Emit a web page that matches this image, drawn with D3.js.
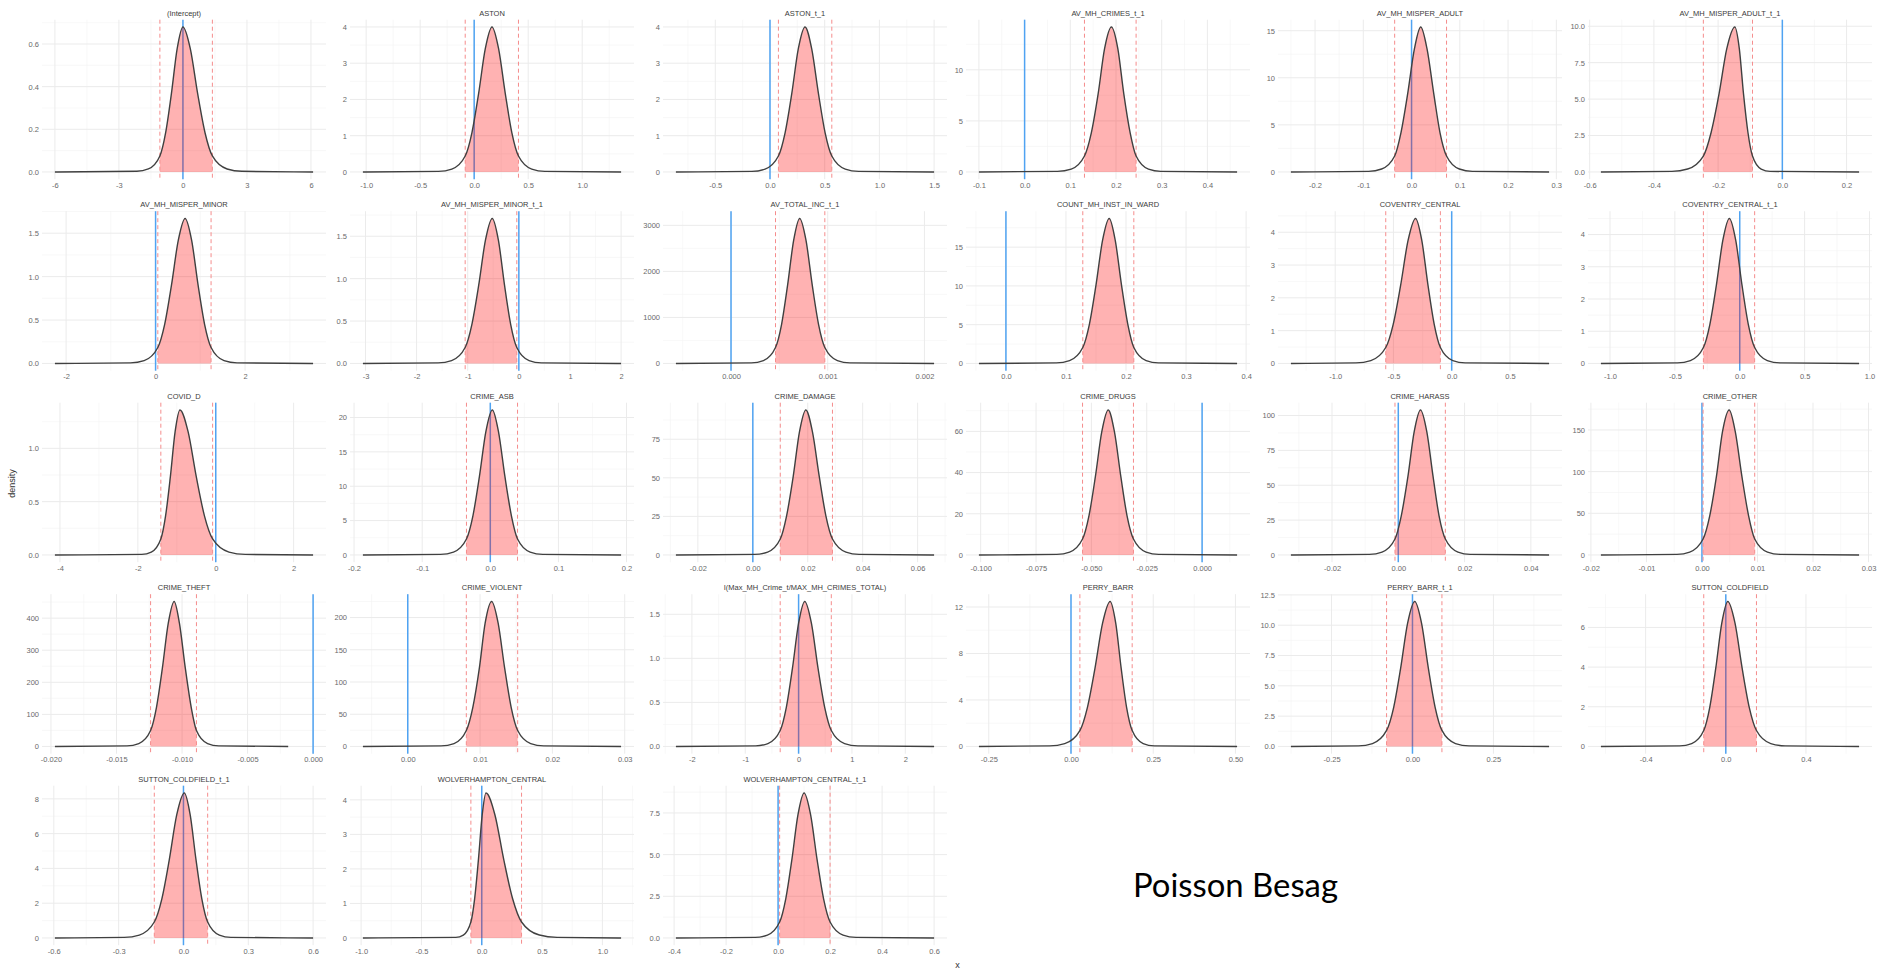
<!DOCTYPE html>
<html>
<head>
<meta charset="utf-8">
<script src="https://cdn.jsdelivr.net/npm/d3@7"></script>
<style>
  body { margin: 0; background: #fff; }
  svg { display: block; }
</style>
</head>
<body>
<svg id="chart" width="1885" height="972"></svg>
<script>
// Posterior marginal densities of the fixed effects (Poisson Besag model)
const panelTitles = [
  "(Intercept)", "ASTON", "ASTON_t_1", "AV_MH_CRIMES_t_1", "AV_MH_MISPER_ADULT", "AV_MH_MISPER_ADULT_t_1",
  "AV_MH_MISPER_MINOR", "AV_MH_MISPER_MINOR_t_1", "AV_TOTAL_INC_t_1", "COUNT_MH_INST_IN_WARD", "COVENTRY_CENTRAL", "COVENTRY_CENTRAL_t_1",
  "COVID_D", "CRIME_ASB", "CRIME_DAMAGE", "CRIME_DRUGS", "CRIME_HARASS", "CRIME_OTHER",
  "CRIME_THEFT", "CRIME_VIOLENT", "I(Max_MH_Crime_t/MAX_MH_CRIMES_TOTAL)", "PERRY_BARR", "PERRY_BARR_t_1", "SUTTON_COLDFIELD",
  "SUTTON_COLDFIELD_t_1", "WOLVERHAMPTON_CENTRAL", "WOLVERHAMPTON_CENTRAL_t_1"
];

// marginal density: coefficient values
const densityX = [
  [-6.0, -2.16, -1.62, -1.08, -0.81, -0.54, -0.27, 0, 0.345, 0.69, 1.035, 1.38, 2.07, 2.76, 6.1],
  [-1.03, -0.331, -0.207, -0.083, -0.021, 0.041, 0.103, 0.165, 0.226, 0.288, 0.349, 0.41, 0.533, 0.655, 1.36],
  [-0.86, -0.166, -0.045, 0.077, 0.138, 0.199, 0.259, 0.32, 0.381, 0.443, 0.504, 0.565, 0.688, 0.81, 1.5],
  [-0.1, 0.072, 0.102, 0.131, 0.146, 0.161, 0.175, 0.19, 0.204, 0.217, 0.231, 0.244, 0.271, 0.298, 0.465],
  [-0.25, -0.089, -0.062, -0.035, -0.022, -0.008, 0.006, 0.019, 0.032, 0.046, 0.059, 0.0725, 0.099, 0.126, 0.285],
  [-0.565, -0.344, -0.295, -0.246, -0.222, -0.197, -0.173, -0.148, -0.134, -0.121, -0.107, -0.093, -0.066, -0.038, 0.239],
  [-2.25, -0.56, -0.255, 0.05, 0.203, 0.355, 0.508, 0.66, 0.805, 0.95, 1.095, 1.24, 1.53, 1.82, 3.52],
  [-3.05, -1.58, -1.315, -1.05, -0.918, -0.785, -0.653, -0.52, -0.4, -0.28, -0.16, -0.04, 0.2, 0.44, 2.0],
  [-0.00057, 0.00021, 0.000335, 0.00046, 0.000523, 0.000585, 0.000648, 0.00071, 0.000775, 0.00084, 0.000905, 0.00097, 0.0011, 0.00123, 0.0021],
  [-0.045, 0.084, 0.106, 0.128, 0.139, 0.15, 0.161, 0.172, 0.182, 0.1925, 0.203, 0.213, 0.2335, 0.254, 0.385],
  [-1.38, -0.822, -0.694, -0.566, -0.502, -0.438, -0.374, -0.31, -0.257, -0.2035, -0.15, -0.097, 0.0095, 0.116, 0.836],
  [-1.07, -0.48, -0.38, -0.28, -0.23, -0.18, -0.13, -0.08, -0.031, 0.0175, 0.066, 0.115, 0.2125, 0.31, 0.92],
  [-4.13, -1.9, -1.655, -1.41, -1.288, -1.165, -1.043, -0.92, -0.71, -0.5, -0.29, -0.08, 0.34, 0.76, 2.5],
  [-0.187, -0.073, -0.054, -0.035, -0.0255, -0.016, -0.0065, 0.003, 0.012, 0.0215, 0.031, 0.04, 0.0585, 0.077, 0.192],
  [-0.028, 0.0007, 0.0054, 0.01, 0.0123, 0.0147, 0.017, 0.0193, 0.0217, 0.0242, 0.0266, 0.029, 0.0339, 0.0387, 0.066],
  [-0.1008, -0.0656, -0.0598, -0.054, -0.0511, -0.0482, -0.0453, -0.0424, -0.0396, -0.0367, -0.0339, -0.031, -0.0253, -0.0196, 0.0158],
  [-0.0324, -0.0087, -0.0049, -0.001, 0.0009, 0.0029, 0.0048, 0.0067, 0.0086, 0.0105, 0.0123, 0.0142, 0.018, 0.0217, 0.0455],
  [-0.0182, -0.0045, -0.0022, 0.0002, 0.0014, 0.0026, 0.0037, 0.0049, 0.006, 0.0072, 0.0084, 0.0095, 0.0118, 0.0141, 0.0283],
  [-0.0197, -0.0142, -0.0133, -0.0124, -0.01195, -0.0115, -0.01105, -0.0106, -0.0102, -0.00975, -0.0093, -0.0089, -0.00805, -0.0072, -0.0019],
  [-0.0062, 0.0046, 0.0064, 0.0081, 0.009, 0.0099, 0.0107, 0.0116, 0.0125, 0.0134, 0.0143, 0.0152, 0.017, 0.0188, 0.0295],
  [-2.3, -0.805, -0.575, -0.345, -0.23, -0.115, 0.0, 0.115, 0.24, 0.364, 0.489, 0.613, 0.862, 1.111, 2.54],
  [-0.28, -0.065, -0.019, 0.027, 0.05, 0.073, 0.096, 0.119, 0.136, 0.1525, 0.169, 0.186, 0.2195, 0.253, 0.505],
  [-0.3755, -0.167, -0.1235, -0.08, -0.058, -0.0365, -0.015, 0.007, 0.028, 0.049, 0.07, 0.091, 0.133, 0.175, 0.422],
  [-0.623, -0.23, -0.17, -0.11, -0.08, -0.05, -0.02, 0.01, 0.046, 0.0815, 0.117, 0.153, 0.2245, 0.296, 0.665],
  [-0.595, -0.274, -0.2045, -0.135, -0.1, -0.0655, -0.031, 0.004, 0.031, 0.058, 0.085, 0.112, 0.166, 0.22, 0.6],
  [-0.985, -0.215, -0.1525, -0.09, -0.059, -0.0275, 0.004, 0.035, 0.109, 0.1825, 0.256, 0.33, 0.4775, 0.625, 1.155],
  [-0.393, -0.088, -0.041, 0.006, 0.0295, 0.053, 0.0765, 0.1, 0.125, 0.15, 0.175, 0.2, 0.25, 0.3, 0.6]
];

// marginal density: density at each coefficient value
const densityY = [
  [0, 0.003, 0.014, 0.075, 0.184, 0.367, 0.578, 0.68, 0.578, 0.367, 0.184, 0.075, 0.014, 0.003, 0],
  [0, 0.016, 0.08, 0.44, 1.08, 2.16, 3.4, 4.0, 3.4, 2.16, 1.08, 0.44, 0.08, 0.016, 0],
  [0, 0.016, 0.08, 0.44, 1.08, 2.16, 3.4, 4.0, 3.4, 2.16, 1.08, 0.44, 0.08, 0.016, 0],
  [0, 0.06, 0.28, 1.56, 3.83, 7.67, 12.07, 14.2, 12.07, 7.67, 3.83, 1.56, 0.28, 0.06, 0],
  [0, 0.06, 0.31, 1.69, 4.16, 8.32, 13.09, 15.4, 13.09, 8.32, 4.16, 1.69, 0.31, 0.06, 0],
  [0, 0.04, 0.2, 1.09, 2.69, 5.37, 8.46, 9.95, 8.46, 5.37, 2.69, 1.09, 0.2, 0.04, 0],
  [0, 0.007, 0.033, 0.184, 0.451, 0.902, 1.42, 1.67, 1.42, 0.902, 0.451, 0.184, 0.033, 0.007, 0],
  [0, 0.007, 0.034, 0.188, 0.462, 0.923, 1.454, 1.71, 1.454, 0.923, 0.462, 0.188, 0.034, 0.007, 0],
  [0, 13, 63, 347, 851, 1701, 2678, 3150, 2678, 1701, 851, 347, 63, 13, 0],
  [0, 0.07, 0.37, 2.06, 5.05, 10.1, 15.9, 18.7, 15.9, 10.1, 5.05, 2.06, 0.37, 0.07, 0],
  [0, 0.018, 0.088, 0.486, 1.193, 2.387, 3.757, 4.42, 3.757, 2.387, 1.193, 0.486, 0.088, 0.018, 0],
  [0, 0.018, 0.09, 0.495, 1.215, 2.43, 3.825, 4.5, 3.825, 2.43, 1.215, 0.495, 0.09, 0.018, 0],
  [0, 0.005, 0.027, 0.15, 0.367, 0.734, 1.156, 1.36, 1.156, 0.734, 0.367, 0.15, 0.027, 0.005, 0],
  [0, 0.08, 0.42, 2.32, 5.7, 11.39, 17.94, 21.1, 17.94, 11.39, 5.7, 2.32, 0.42, 0.08, 0],
  [0, 0.38, 1.88, 10.34, 25.38, 50.76, 79.9, 94, 79.9, 50.76, 25.38, 10.34, 1.88, 0.38, 0],
  [0, 0.28, 1.41, 7.74, 19.01, 38.02, 59.84, 70.4, 59.84, 38.02, 19.01, 7.74, 1.41, 0.28, 0],
  [0, 0.42, 2.08, 11.44, 28.08, 56.16, 88.4, 104, 88.4, 56.16, 28.08, 11.44, 2.08, 0.42, 0],
  [0, 0.7, 3.48, 19.14, 46.98, 93.96, 147.9, 174, 147.9, 93.96, 46.98, 19.14, 3.48, 0.7, 0],
  [0, 1.8, 9.04, 49.72, 122.04, 244.08, 384.2, 452, 384.2, 244.08, 122.04, 49.72, 9.04, 1.8, 0],
  [0, 0.9, 4.5, 24.75, 60.75, 121.5, 191.25, 225, 191.25, 121.5, 60.75, 24.75, 4.5, 0.9, 0],
  [0, 0.007, 0.033, 0.181, 0.444, 0.889, 1.399, 1.646, 1.399, 0.889, 0.444, 0.181, 0.033, 0.007, 0],
  [0, 0.05, 0.25, 1.37, 3.37, 6.74, 10.61, 12.48, 10.61, 6.74, 3.37, 1.37, 0.25, 0.05, 0],
  [0, 0.048, 0.24, 1.32, 3.23, 6.46, 10.17, 11.96, 10.17, 6.46, 3.23, 1.32, 0.24, 0.048, 0],
  [0, 0.029, 0.146, 0.804, 1.974, 3.947, 6.214, 7.31, 6.214, 3.947, 1.974, 0.804, 0.146, 0.029, 0],
  [0, 0.033, 0.167, 0.917, 2.252, 4.504, 7.089, 8.34, 7.089, 4.504, 2.252, 0.917, 0.167, 0.033, 0],
  [0, 0.017, 0.084, 0.462, 1.134, 2.268, 3.57, 4.2, 3.57, 2.268, 1.134, 0.462, 0.084, 0.017, 0],
  [0, 0.035, 0.174, 0.957, 2.349, 4.698, 7.395, 8.7, 7.395, 4.698, 2.349, 0.957, 0.174, 0.035, 0]
];

// 95% credible interval bounds
const ciLower = [-1.08, -0.083, 0.077, 0.131, -0.035, -0.246, 0.05, -1.05, 0.00046, 0.128, -0.566, -0.28,
  -1.41, -0.035, 0.01, -0.054, -0.001, 0.0002, -0.0124, 0.0081, -0.345, 0.027, -0.08, -0.11, -0.135, -0.09, 0.006];
const ciUpper = [1.38, 0.41, 0.565, 0.244, 0.0725, -0.093, 1.24, -0.04, 0.00097, 0.213, -0.097, 0.115,
  -0.08, 0.04, 0.029, -0.031, 0.0142, 0.0095, -0.0089, 0.0152, 0.613, 0.186, 0.091, 0.153, 0.112, 0.33, 0.2];

// no-effect reference line
const referenceValue = 0;

const xTickLabels = [
  ["-6", "-3", "0", "3", "6"],
  ["-1.0", "-0.5", "0.0", "0.5", "1.0"],
  ["-0.5", "0.0", "0.5", "1.0", "1.5"],
  ["-0.1", "0.0", "0.1", "0.2", "0.3", "0.4"],
  ["-0.2", "-0.1", "0.0", "0.1", "0.2", "0.3"],
  ["-0.6", "-0.4", "-0.2", "0.0", "0.2"],
  ["-2", "0", "2"],
  ["-3", "-2", "-1", "0", "1", "2"],
  ["0.000", "0.001", "0.002"],
  ["0.0", "0.1", "0.2", "0.3", "0.4"],
  ["-1.0", "-0.5", "0.0", "0.5"],
  ["-1.0", "-0.5", "0.0", "0.5", "1.0"],
  ["-4", "-2", "0", "2"],
  ["-0.2", "-0.1", "0.0", "0.1", "0.2"],
  ["-0.02", "0.00", "0.02", "0.04", "0.06"],
  ["-0.100", "-0.075", "-0.050", "-0.025", "0.000"],
  ["-0.02", "0.00", "0.02", "0.04"],
  ["-0.02", "-0.01", "0.00", "0.01", "0.02", "0.03"],
  ["-0.020", "-0.015", "-0.010", "-0.005", "0.000"],
  ["0.00", "0.01", "0.02", "0.03"],
  ["-2", "-1", "0", "1", "2"],
  ["-0.25", "0.00", "0.25", "0.50"],
  ["-0.25", "0.00", "0.25"],
  ["-0.4", "0.0", "0.4"],
  ["-0.6", "-0.3", "0.0", "0.3", "0.6"],
  ["-1.0", "-0.5", "0.0", "0.5", "1.0"],
  ["-0.4", "-0.2", "0.0", "0.2", "0.4", "0.6"]
];

const yTickLabels = [
  ["0.0", "0.2", "0.4", "0.6"],
  ["0", "1", "2", "3", "4"],
  ["0", "1", "2", "3", "4"],
  ["0", "5", "10"],
  ["0", "5", "10", "15"],
  ["0.0", "2.5", "5.0", "7.5", "10.0"],
  ["0.0", "0.5", "1.0", "1.5"],
  ["0.0", "0.5", "1.0", "1.5"],
  ["0", "1000", "2000", "3000"],
  ["0", "5", "10", "15"],
  ["0", "1", "2", "3", "4"],
  ["0", "1", "2", "3", "4"],
  ["0.0", "0.5", "1.0"],
  ["0", "5", "10", "15", "20"],
  ["0", "25", "50", "75"],
  ["0", "20", "40", "60"],
  ["0", "25", "50", "75", "100"],
  ["0", "50", "100", "150"],
  ["0", "100", "200", "300", "400"],
  ["0", "50", "100", "150", "200"],
  ["0.0", "0.5", "1.0", "1.5"],
  ["0", "4", "8", "12"],
  ["0.0", "2.5", "5.0", "7.5", "10.0", "12.5"],
  ["0", "2", "4", "6"],
  ["0", "2", "4", "6", "8"],
  ["0", "1", "2", "3", "4"],
  ["0.0", "2.5", "5.0", "7.5"]
];

// ---- layout ----
const FONT = "'Liberation Sans', Arial, sans-serif";
const colLeft = [42, 350, 663, 966, 1278, 1588];
const panelW = 284, panelH = 159.5, rowTop = 19.7, rowStep = 191.5, nCol = 6;

const svg = d3.select("#chart");
const defs = svg.append("defs");

// minor breaks halfway between major breaks, kept inside the panel range
function minorBreaks(ticks, domain) {
  const step = ticks[1] - ticks[0];
  const out = [];
  for (let k = -1; k < ticks.length; k++) {
    const v = ticks[0] + (k + 0.5) * step;
    if (v >= domain[0] && v <= domain[1]) out.push(v);
  }
  return out;
}

panelTitles.forEach((title, i) => {
  const col = i % nCol, row = Math.floor(i / nCol);
  const left = colLeft[col], top = rowTop + row * rowStep;
  const xs = densityX[i], ys = densityY[i];
  const pts = xs.map((v, j) => [v, ys[j]]);

  const [xmin, xmax] = d3.extent(xs.concat([referenceValue, ciLower[i], ciUpper[i]]));
  const xpad = (xmax - xmin) * 0.05;
  const x = d3.scaleLinear().domain([xmin - xpad, xmax + xpad]).range([left, left + panelW]);
  const ymax = d3.max(ys);
  const y = d3.scaleLinear().domain([-0.05 * ymax, 1.05 * ymax]).range([top + panelH, top]);

  const xt = xTickLabels[i].map(Number);
  const yt = yTickLabels[i].map(Number);
  const g = svg.append("g").attr("class", "panel");

  // grid
  const grid = g.append("g");
  grid.selectAll("line.xminor").data(minorBreaks(xt, x.domain())).join("line")
    .attr("x1", d => x(d)).attr("x2", d => x(d)).attr("y1", top).attr("y2", top + panelH)
    .attr("stroke", "#f3f3f3").attr("stroke-width", 0.6);
  grid.selectAll("line.yminor").data(minorBreaks(yt, y.domain())).join("line")
    .attr("x1", left).attr("x2", left + panelW).attr("y1", d => y(d)).attr("y2", d => y(d))
    .attr("stroke", "#f3f3f3").attr("stroke-width", 0.6);
  grid.selectAll("line.xmajor").data(xt).join("line")
    .attr("x1", d => x(d)).attr("x2", d => x(d)).attr("y1", top).attr("y2", top + panelH)
    .attr("stroke", "#ebebeb").attr("stroke-width", 1);
  grid.selectAll("line.ymajor").data(yt).join("line")
    .attr("x1", left).attr("x2", left + panelW).attr("y1", d => y(d)).attr("y2", d => y(d))
    .attr("stroke", "#ebebeb").attr("stroke-width", 1);

  // reference line at zero
  g.append("line")
    .attr("x1", x(referenceValue)).attr("x2", x(referenceValue))
    .attr("y1", top).attr("y2", top + panelH)
    .attr("stroke", "#4fa3f2").attr("stroke-width", 1.5);

  // shaded credible interval under the density
  const clipId = "ci-clip-" + i;
  defs.append("clipPath").attr("id", clipId).append("rect")
    .attr("x", x(ciLower[i])).attr("y", top)
    .attr("width", x(ciUpper[i]) - x(ciLower[i])).attr("height", panelH);
  const area = d3.area().x(d => x(d[0])).y0(y(0)).y1(d => y(d[1])).curve(d3.curveMonotoneX);
  g.append("path").datum(pts)
    .attr("d", area).attr("clip-path", `url(#${clipId})`)
    .attr("fill", "#ff0000").attr("fill-opacity", 0.3);

  // credible interval bounds
  g.selectAll("line.ci").data([ciLower[i], ciUpper[i]]).join("line")
    .attr("x1", d => x(d)).attr("x2", d => x(d)).attr("y1", top).attr("y2", top + panelH)
    .attr("stroke", "#f58c8c").attr("stroke-width", 1).attr("stroke-dasharray", "4,3");

  // density curve
  const line = d3.line().x(d => x(d[0])).y(d => y(d[1])).curve(d3.curveMonotoneX);
  g.append("path").datum(pts)
    .attr("d", line).attr("fill", "none")
    .attr("stroke", "#404040").attr("stroke-width", 1.4);

  // axes
  const ax = g.append("g").attr("transform", `translate(0,${top + panelH})`)
    .call(d3.axisBottom(x).tickValues(xt).tickFormat((d, j) => xTickLabels[i][j]).tickSize(0).tickPadding(3));
  ax.select(".domain").remove();
  const ay = g.append("g").attr("transform", `translate(${left},0)`)
    .call(d3.axisLeft(y).tickValues(yt).tickFormat((d, j) => yTickLabels[i][j]).tickSize(0).tickPadding(3));
  ay.select(".domain").remove();
  [ax, ay].forEach(a => a.attr("font-family", FONT).attr("font-size", 7.5)
    .selectAll("text").attr("fill", "#6a6a6a"));

  // strip title
  g.append("text")
    .attr("x", left + panelW / 2).attr("y", top - 4.2)
    .attr("text-anchor", "middle")
    .attr("font-family", FONT).attr("font-size", 7.5).attr("fill", "#3a3a3a")
    .text(title);
});

// shared axis titles
svg.append("text")
  .attr("transform", "translate(15,483.5) rotate(-90)")
  .attr("text-anchor", "middle")
  .attr("font-family", FONT).attr("font-size", 9).attr("fill", "#333")
  .text("density");
svg.append("text")
  .attr("x", 957.5).attr("y", 967.5)
  .attr("text-anchor", "middle")
  .attr("font-family", FONT).attr("font-size", 9).attr("fill", "#333")
  .text("x");

// model label
svg.append("text")
  .attr("x", 1133).attr("y", 897)
  .attr("font-family", "Lato, 'Open Sans', sans-serif").attr("font-size", 33)
  .attr("textLength", 205).attr("lengthAdjust", "spacingAndGlyphs")
  .attr("fill", "#000")
  .text("Poisson Besag");
</script>
</body>
</html>
